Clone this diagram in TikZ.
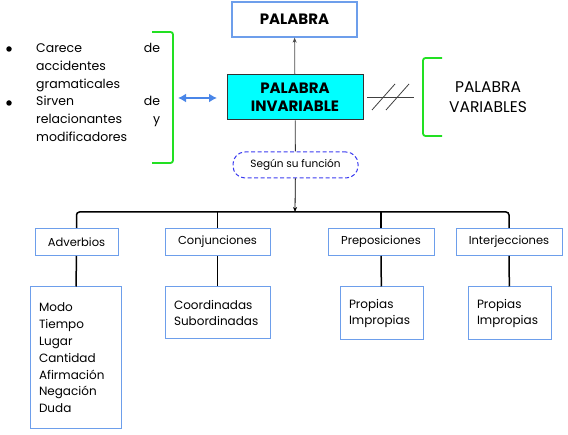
\documentclass[tikz,border=0pt]{standalone}
\usepackage{fontspec}
\setmainfont{Poppins}
\usetikzlibrary{arrows.meta,positioning,calc}
\definecolor{boxblue}{HTML}{6D9EEB}
\definecolor{linkblue}{HTML}{4A86E8}
\definecolor{dashblue}{HTML}{3C3CF0}
\definecolor{brgreen}{HTML}{22E022}
\definecolor{invcyan}{HTML}{00FFFF}
\tikzset{
 titlebox/.style={draw=boxblue,line width=1.3pt,align=center,minimum height=35pt,
             minimum width=125pt,font=\fontsize{15}{17}\selectfont\bfseries},
 mainbox/.style={draw=black!80,line width=1pt,fill=invcyan,align=center,minimum height=45pt,
             minimum width=136pt,inner sep=0pt,font=\fontsize{15}{18}\selectfont\bfseries},
 funcbox/.style={draw=dashblue,line width=1pt,dash pattern=on 4pt off 2.5pt,rounded corners=12pt,
             minimum height=26pt,minimum width=125pt,font=\fontsize{10.5}{12}\selectfont},
 catbox/.style={draw=boxblue,line width=1pt,align=center,minimum height=27pt,minimum width=#1,
             inner sep=0pt,font=\fontsize{11.5}{13}\selectfont},
 listbox/.style={draw=boxblue,line width=1pt,align=left,inner xsep=9pt,inner ysep=0pt,
             text width=#1-18pt,font=\fontsize{12}{16.8}\selectfont},
 tree/.style={line width=1.5pt,rounded corners=3pt},
 bracket/.style={draw=brgreen,line width=1.8pt,rounded corners=2.5pt},
 arrow/.style={-{Stealth[length=5pt,width=4pt]},line width=0.8pt}
}
\begin{document}
\begin{tikzpicture}[x=1pt,y=-1pt]
\useasboundingbox (0,0) rectangle (568,435);
% top part
\node[titlebox] (pal) at (294.5,19.5) {PALABRA};
\node[mainbox] (inv) at (295,97.5) {PALABRA\\INVARIABLE};
\node[funcbox] (fun) at (295.5,165) {Según su función};
\draw[arrow,black!70] (inv) -- (pal);
\draw[black!80,line width=0.8pt] (inv) -- (fun);

% left side
\node[circle,fill=black,inner sep=0pt,minimum size=5.5pt] (dot1) at (9,49) {};
\node[circle,fill=black,inner sep=0pt,minimum size=5.5pt] (dot2) at (9,103) {};
\node[anchor=north west,text width=124pt,inner sep=0pt,align=left,
      font=\fontsize{12.5}{17.8}\selectfont] (feat) at (36,43)
 {Carece\hfill de\\accidentes\\gramaticales\\
  Sirven\hfill de\\relacionantes\hfill y\\modificadores};
\draw[bracket] (152,32) -- (173,32) -- (173,163) -- (152,163);
\coordinate (lbr) at (178,98);
\coordinate (lin) at (217,98);
\draw[linkblue,line width=1.8pt,{Latex[length=8pt,width=9pt]}-{Latex[length=8pt,width=9pt]}] (lbr) -- (lin);

% right side
\coordinate (na) at (367,97);
\coordinate (nb) at (414,97);
\draw[black!75,line width=0.8pt] (na) -- (nb);
\draw[black!75,line width=0.8pt] (372,110) -- (395,84);
\draw[black!75,line width=0.8pt] (386,110) -- (409,84);
\draw[bracket] (442,58) -- (423,58) -- (423,136) -- (442,136);
\node[align=center,font=\fontsize{15.5}{20}\selectfont] (var) at (488,97) {PALABRA\\VARIABLES};

% categories
\coordinate (bar) at (295,212);
\node[catbox=83pt] (adv) at (76.5,242) {Adverbios};
\node[catbox=105pt] (conj) at (217.5,242) {Conjunciones};
\node[catbox=106pt] (prep) at (381,242) {Preposiciones};
\node[catbox=106pt] (intj) at (509,242) {Interjecciones};
\draw[arrow] (fun) -- (bar);
\draw[tree] (adv.north) |- (bar) -| (intj.north);
\draw[line width=1.5pt] (conj.north) -- (conj.north |- bar);
\draw[line width=1.5pt] (prep.north) -- (prep.north |- bar);

\node[listbox=91pt,minimum height=142pt] (advl) at (75.5,358)
 {Modo\\Tiempo\\Lugar\\Cantidad\\Afirmación\\Negación\\Duda};
\node[listbox=105pt,minimum height=52pt] (conjl) at (217.5,313)
 {Coordinadas\\Subordinadas};
\node[listbox=83pt,minimum height=53pt] (prepl) at (381.5,313.5)
 {Propias\\Impropias};
\node[listbox=83pt,minimum height=53pt] (intjl) at (509.5,313.5)
 {Propias\\Impropias};
\draw[line width=1.5pt] (adv) -- (advl);
\draw[line width=1.5pt] (conj) -- (conjl);
\draw[line width=1.5pt] (prep) -- (prepl);
\draw[line width=1.5pt] (intj) -- (intjl);
\end{tikzpicture}
\end{document}
